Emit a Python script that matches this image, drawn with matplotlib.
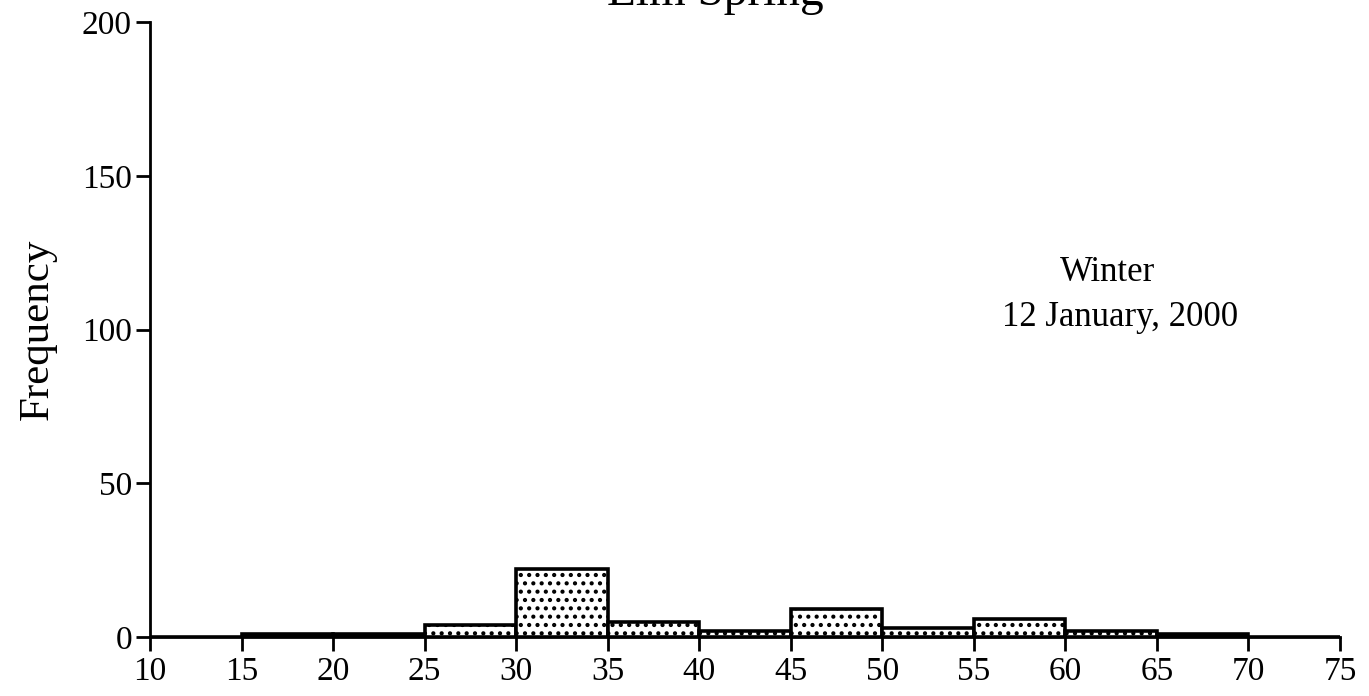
import matplotlib
matplotlib.use("Agg")
import matplotlib.pyplot as plt

plt.rcParams['font.family'] = ['Liberation Serif', 'DejaVu Serif']
plt.rcParams['hatch.linewidth'] = 1.8

# Data
bin_edges = [10, 15, 20, 25, 30, 35, 40, 45, 50, 55, 60, 65, 70]
frequencies = [0, 1, 1, 4, 22, 5, 2, 9, 3, 6, 2, 1, 0]
x_ticks = [10, 15, 20, 25, 30, 35, 40, 45, 50, 55, 60, 65, 70, 75]
y_ticks = [0, 50, 100, 150, 200]
title = "Elm Spring"
season = "Winter"
date_text = "12 January, 2000"

fig = plt.figure(figsize=(13.69, 6.96), dpi=100)
ax = fig.add_axes([150 / 1369, 59 / 696, 1190 / 1369, 615 / 696])

ax.bar(bin_edges, frequencies, width=5, align='edge', facecolor='white',
       edgecolor='black', linewidth=2.6, hatch='..', zorder=3)

ax.set_xlim(10, 75)
ax.set_ylim(0, 200)
ax.set_xticks(x_ticks)
ax.set_yticks(y_ticks)
ax.set_xticklabels([str(v) for v in x_ticks])
ax.set_yticklabels([str(v) for v in y_ticks])

for s in ['top', 'right']:
    ax.spines[s].set_visible(False)
for s in ['left', 'bottom']:
    ax.spines[s].set_linewidth(2.0)

ax.tick_params(axis='both', direction='out', width=2.0, labelsize=24)
ax.tick_params(axis='x', length=10, pad=4)
ax.tick_params(axis='y', length=10, pad=3)

ax.set_ylabel("Frequency", fontsize=31, labelpad=18)

fig.text(715 / 1369, 1 - 5 / 696, title, fontsize=34, ha='center', va='baseline')
ax.text(0.805, 0.593, season, transform=ax.transAxes, fontsize=25,
        ha='center', va='center')
ax.text(0.815, 0.519, date_text, transform=ax.transAxes, fontsize=25,
        ha='center', va='center')

fig.savefig("out.png", dpi=100)
